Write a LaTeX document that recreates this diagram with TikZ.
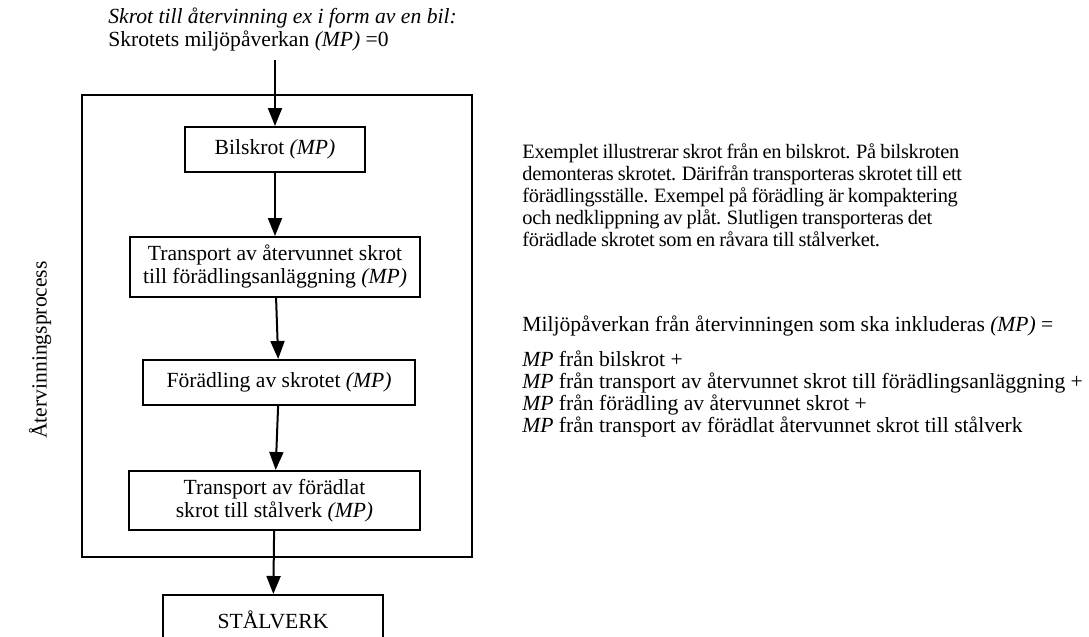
\documentclass[tikz,border=0pt]{standalone}
\usepackage{fontspec}
\setmainfont{Liberation Serif}
\newfontfamily\tightfont[LetterSpace=-1.5, WordSpace=0.85]{Liberation Serif}
\usetikzlibrary{positioning, arrows.meta}

\tikzset{
  stepbox/.style={draw, line width=1pt, align=center, inner sep=2pt},
  flowarr/.style={-{Triangle[length=9pt, width=7pt]}, line width=1pt},
  plaintext/.style={align=left, inner sep=0pt}
}

\begin{document}
\begin{tikzpicture}[x=0.5pt, y=-0.5pt, font=\fontsize{10.8}{11.5}\selectfont]

	\useasboundingbox (0,0) rectangle (1089,637);
	\clip (0,0) rectangle (1089,637);

	% Input text
	\node[plaintext, anchor=north west] (input) at (108,7) {\textit{Skrot till återvinning ex i form av en bil:}\\Skrotets miljöpåverkan \textit{(MP)} =0};
	\coordinate (start) at (275,60);

	% Process frame
	\draw[line width=1pt] (82,95) rectangle (472,557);
	\node[rotate=90] (proc) at (40,350) {Återvinningsprocess};

	% Steps
	\node[stepbox, minimum width=90pt, minimum height=22.5pt] (bil) at (275,149.5) {Bilskrot \textit{(MP)}};
	\node[stepbox, minimum width=145pt, minimum height=30pt] (trans1) at (275,267) {Transport av återvunnet skrot\\till förädlingsanläggning \textit{(MP)}};
	\node[stepbox, minimum width=136pt, minimum height=22.5pt] (foradl) at (279,382.5) {Förädling av skrotet \textit{(MP)}};
	\node[stepbox, minimum width=145.5pt, minimum height=29.5pt] (trans2) at (274.5,500.5) {Transport av förädlat\\skrot till stålverk \textit{(MP)}};
	\node[stepbox, minimum width=110pt, minimum height=25pt] (stal) at (273,620) {STÅLVERK};

	% Flow
	\draw[flowarr] (start) -- (bil.north);
	\draw[flowarr] (bil) -- (trans1);
	\draw[flowarr] (trans1) -- (foradl);
	\draw[flowarr] (foradl) -- (trans2);
	\draw[flowarr] (trans2) -- (stal);

	% Description
	\node[plaintext, anchor=north west, font=\tightfont\fontsize{10.2}{11}\selectfont] (desc) at (522,143) {Exemplet illustrerar skrot från en bilskrot. På bilskroten\\demonteras skrotet. Därifrån transporteras skrotet till ett\\förädlingsställe. Exempel på förädling är kompaktering\\och nedklippning av plåt. Slutligen transporteras det\\förädlade skrotet som en råvara till stålverket.};

	\node[plaintext, anchor=west] (sumhead) at (522,326) {Miljöpåverkan från återvinningen som ska inkluderas \textit{(MP)} =};
	\node[plaintext, anchor=north west, font=\fontsize{10.8}{11}\selectfont] (sumlist) at (522,350) {\textit{MP} från bilskrot +\\\textit{MP} från transport av återvunnet skrot till förädlingsanläggning +\\\textit{MP} från förädling av återvunnet skrot +\\\textit{MP} från transport av förädlat återvunnet skrot till stålverk};

\end{tikzpicture}
\end{document}
